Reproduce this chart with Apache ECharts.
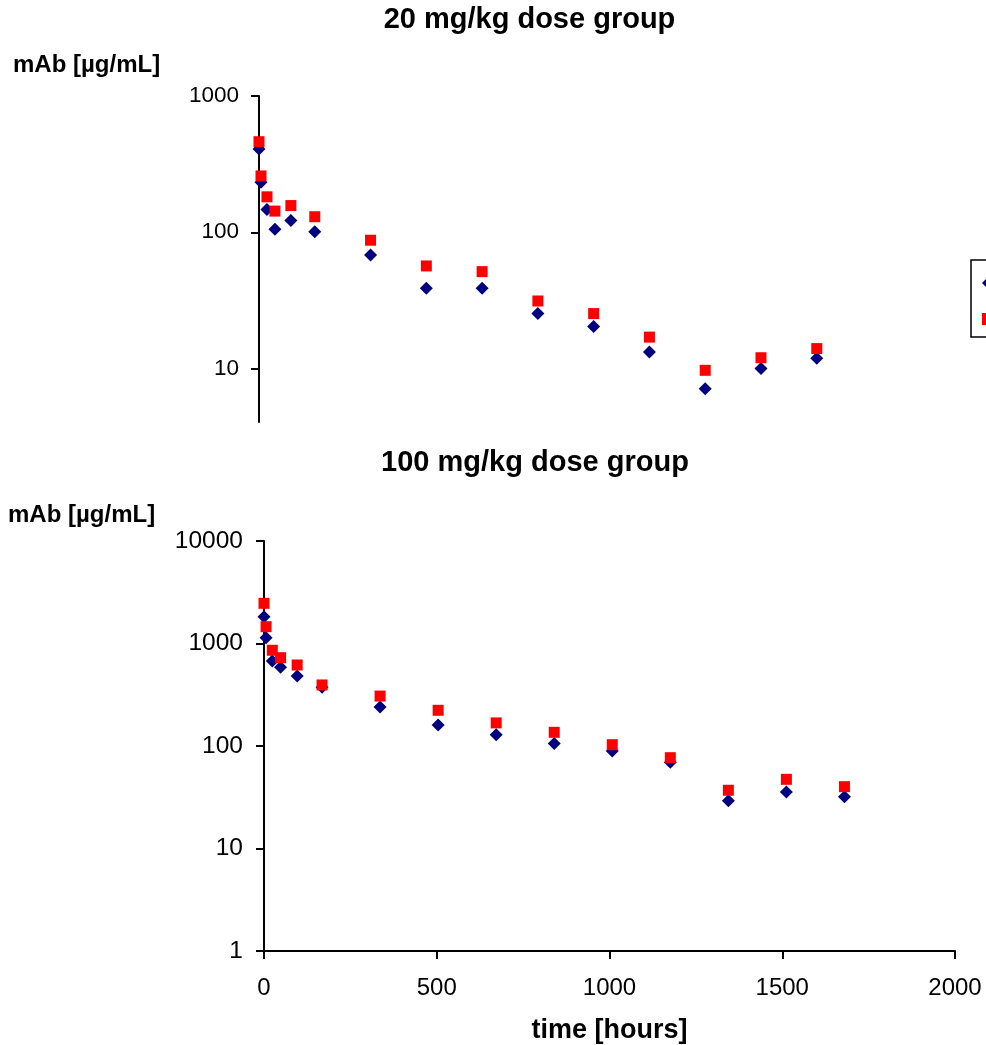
<!DOCTYPE html>
<html>
<head>
<meta charset="utf-8">
<script src="https://cdn.jsdelivr.net/npm/echarts@6/dist/echarts.min.js"></script>
<style>
  html, body { margin: 0; padding: 0; background: #fff; }
  #chart { width: 986px; height: 1045px; }
</style>
</head>
<body>
<div id="chart"></div>
<script>
// Sampling times, hours after dosing
const timeHours = [0, 6, 24, 48, 96, 168, 336, 504, 672, 840, 1008, 1176, 1344, 1512, 1680];

// 20 mg/kg dose group, mAb concentration in µg/mL
const dose20Series1 = [408, 233, 147, 105, 122, 101, 68, 38.8, 38.8, 25.3, 20.3, 13.2, 7.1, 10.0, 11.9];
const dose20Series2 = [462, 259, 182, 143, 157, 130, 87.4, 56.6, 51.4, 31.3, 25.3, 17.0, 9.7, 12.0, 14.0];

// 100 mg/kg dose group, mAb concentration in µg/mL
const dose100Series1 = [1825, 1140, 675, 586, 482, 374, 240, 160, 129, 106, 89.4, 69.3, 29.3, 35.6, 32.0];
const dose100Series2 = [2466, 1459, 859, 727, 617, 394, 307, 223, 168, 136, 103, 76.9, 37.0, 47.3, 40.1];

// Axis ticks
const yTicks20 = [10, 100, 1000];
const yTicks100 = [1, 10, 100, 1000, 10000];
const xTicks = [0, 500, 1000, 1500, 2000];

const seriesNames = ['Series1', 'Series2'];
const titles = ['20 mg/kg dose group', '100 mg/kg dose group'];
const yAxisTitle = 'mAb [µg/mL]';
const xAxisTitle = 'time [hours]';

const FONT = '"Liberation Sans", Arial, sans-serif';
const BLUE = '#000080';
const RED = '#FF0000';
const AXIS_WIDTH = 2;

const pairs = (xs, ys) => xs.map((x, i) => [x, ys[i]]);
const plain = v => String(Math.round(v));

function yAxisFor(gridIndex, ticks, min, max, fontSize, margin) {
  return {
    gridIndex,
    type: 'log',
    logBase: 10,
    min,
    max,
    axisLine: { show: true, lineStyle: { color: '#000', width: AXIS_WIDTH } },
    axisTick: { show: true, length: 8, customValues: ticks, lineStyle: { color: '#000', width: AXIS_WIDTH } },
    axisLabel: {
      show: true, customValues: ticks, margin, formatter: plain,
      color: '#000', fontSize, fontFamily: FONT
    },
    splitLine: { show: false }
  };
}

const chart = echarts.init(document.getElementById('chart'), null, { renderer: 'canvas' });

chart.setOption({
  backgroundColor: '#fff',
  animation: false,
  grid: [
    { left: 259, top: 96, width: 664, height: 326 },
    { left: 264, top: 541, width: 691, height: 410 }
  ],
  xAxis: [
    { gridIndex: 0, type: 'value', min: 0, max: 2000, show: false },
    {
      gridIndex: 1, type: 'value', min: 0, max: 2000, interval: 500,
      axisLine: { show: true, lineStyle: { color: '#000', width: AXIS_WIDTH } },
      axisTick: { show: true, length: 8, customValues: xTicks, lineStyle: { color: '#000', width: AXIS_WIDTH } },
      axisLabel: { customValues: xTicks, margin: 25, formatter: plain, color: '#000', fontSize: 24, fontFamily: FONT },
      splitLine: { show: false },
      name: xAxisTitle,
      nameLocation: 'middle',
      nameGap: 66,
      nameTextStyle: { color: '#000', fontSize: 27, fontWeight: 'bold', fontFamily: FONT }
    }
  ],
  yAxis: [
    yAxisFor(0, yTicks20, 4.05, 1000, 22.5, 20),
    yAxisFor(1, yTicks100, 1, 10000, 24.5, 21)
  ],
  legend: {
    orient: 'vertical',
    left: 971,
    top: 260,
    padding: [12, 8, 7, 11],
    itemGap: 14,
    itemWidth: 12,
    itemHeight: 12,
    borderColor: '#000',
    borderWidth: 1.5,
    borderRadius: 0,
    textStyle: { color: '#000', fontSize: 22, fontFamily: FONT },
    data: seriesNames
  },
  graphic: [
    { type: 'text', x: 529.5, y: 20, style: { text: titles[0], font: 'bold 29px ' + FONT, fill: '#000', textAlign: 'center', textVerticalAlign: 'middle' } },
    { type: 'text', x: 535, y: 463, style: { text: titles[1], font: 'bold 29px ' + FONT, fill: '#000', textAlign: 'center', textVerticalAlign: 'middle' } },
    { type: 'text', x: 13, y: 65, style: { text: yAxisTitle, font: 'bold 24px ' + FONT, fill: '#000', textAlign: 'left', textVerticalAlign: 'middle' } },
    { type: 'text', x: 8, y: 515, style: { text: yAxisTitle, font: 'bold 24px ' + FONT, fill: '#000', textAlign: 'left', textVerticalAlign: 'middle' } }
  ],
  series: [
    {
      name: seriesNames[0], type: 'scatter', xAxisIndex: 0, yAxisIndex: 0,
      symbol: 'diamond', symbolSize: 13, itemStyle: { color: BLUE, opacity: 1 },
      data: pairs(timeHours, dose20Series1), z: 2
    },
    {
      name: seriesNames[1], type: 'scatter', xAxisIndex: 0, yAxisIndex: 0,
      symbol: 'rect', symbolSize: 11, itemStyle: { color: RED, opacity: 1 },
      data: pairs(timeHours, dose20Series2), z: 3
    },
    {
      name: seriesNames[0], type: 'scatter', xAxisIndex: 1, yAxisIndex: 1,
      symbol: 'diamond', symbolSize: 13, itemStyle: { color: BLUE, opacity: 1 },
      data: pairs(timeHours, dose100Series1), z: 2
    },
    {
      name: seriesNames[1], type: 'scatter', xAxisIndex: 1, yAxisIndex: 1,
      symbol: 'rect', symbolSize: 11, itemStyle: { color: RED, opacity: 1 },
      data: pairs(timeHours, dose100Series2), z: 3
    }
  ]
});
</script>
</body>
</html>
